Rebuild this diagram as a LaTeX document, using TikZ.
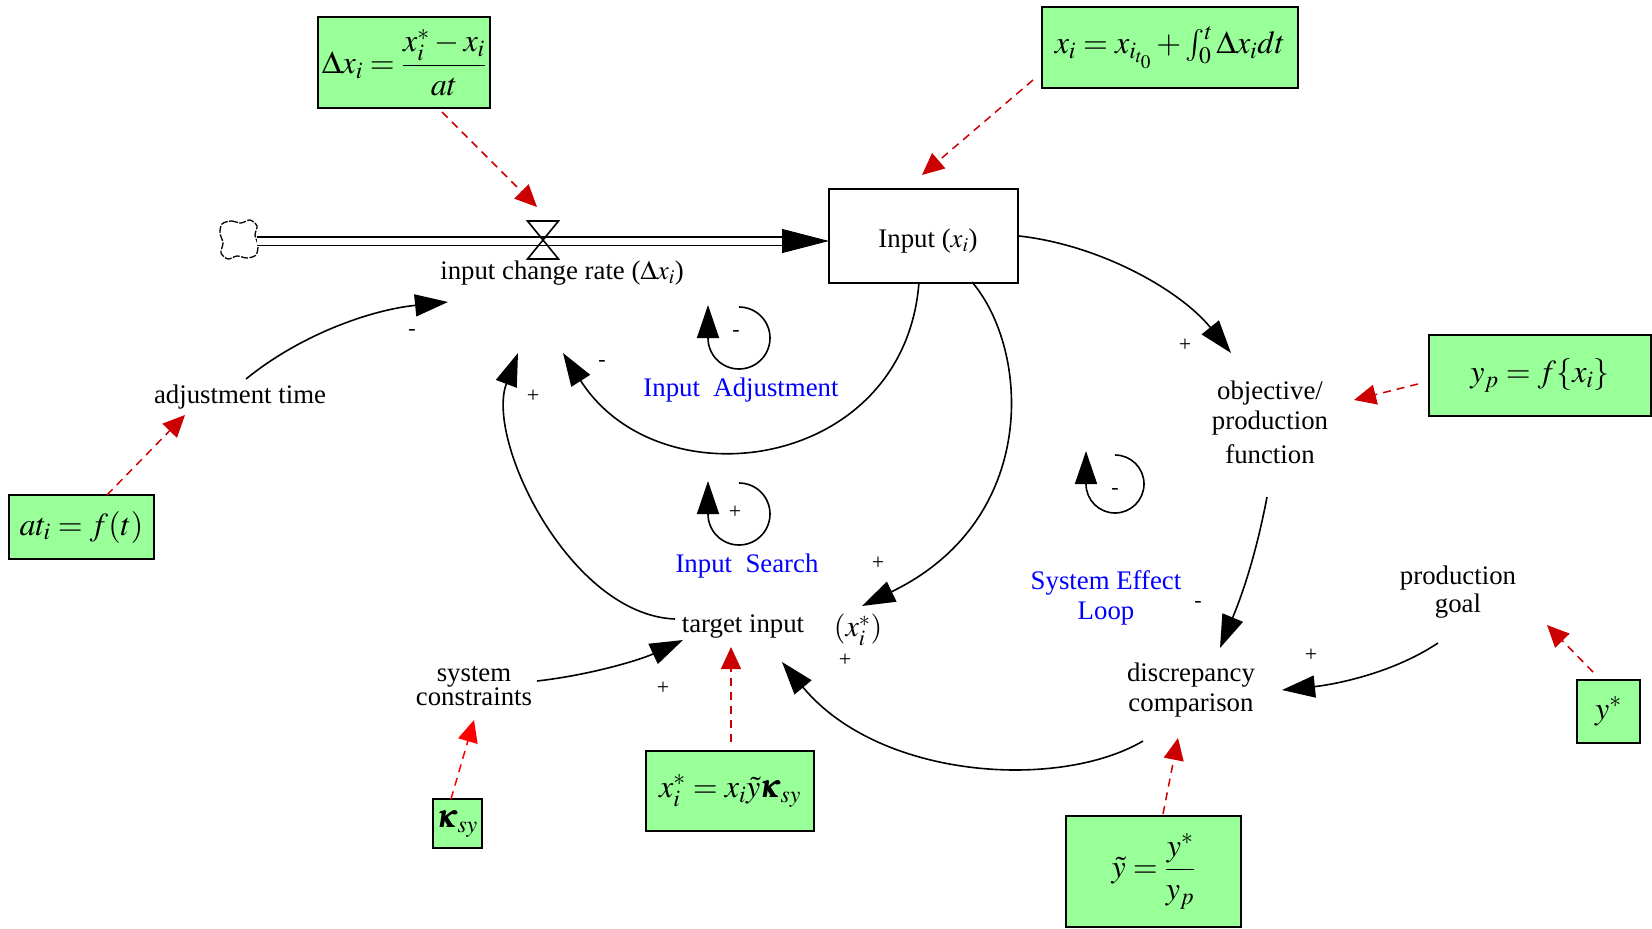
\documentclass[tikz,border=0pt]{standalone}
\usepackage{amsmath}
\usepackage{mathptmx}
\usepackage{fontspec}
\setmainfont{Liberation Serif}
\usetikzlibrary{arrows.meta,calc}

\definecolor{eqgreen}{RGB}{153,255,153}
\definecolor{infred}{RGB}{204,0,0}

\tikzset{
  eqbox/.style={draw=black, line width=1.8pt, fill=eqgreen, inner sep=0pt,
                font=\fontsize{32}{36}\selectfont},
  lbl/.style={inner sep=0pt, align=center, font=\fontsize{26.8}{30}\selectfont},
  loopname/.style={lbl, text=blue},
  sgn/.style={inner sep=0pt, font=\fontsize{22}{24}\selectfont},
  link/.style={line width=1.6pt, -{Triangle[length=33pt,width=22pt]}},
  infl/.style={color=infred, line width=1.5pt, dash pattern=on 8pt off 6pt,
               -{Triangle[length=22pt,width=20pt]}},
  loopar/.style={line width=1.6pt, -{Triangle[length=33pt,width=22pt]}},
  pipe/.style={line width=1.6pt, double=white, double distance=7pt},
}

\begin{document}
\begin{tikzpicture}[x=1pt,y=-1pt]
\useasboundingbox (0,0) rectangle (1652,929);

% ---------- equation boxes ----------
\node[eqbox, minimum width=172pt, minimum height=91pt] (dxbox) at (404,62.5)
  {$\Delta x_i=\dfrac{x_i^{*}-x_i}{at}$};
\node[eqbox, minimum width=256pt, minimum height=81pt] (xbox) at (1170,47.5)
  {$x_i=x_{i_{t_0}}+\int_0^t\Delta x_i dt$};
\node[eqbox, minimum width=222pt, minimum height=81pt] (ypbox) at (1540,375.5)
  {$y_p=f\{x_i\}$};
\node[eqbox, minimum width=145pt, minimum height=64pt] (atbox) at (81.5,527)
  {$at_i=f(t)$};
\node[eqbox, minimum width=49pt, minimum height=49pt] (kbox) at (457.5,823.5)
  {$\pmb{\kappa}_{sy}$};
\node[eqbox, minimum width=168pt, minimum height=80pt] (xsbox) at (730,791)
  {$x_i^{*}=x_i\tilde{y}\pmb{\kappa}_{sy}$};
\node[eqbox, minimum width=175pt, minimum height=111pt] (ytbox) at (1153.5,871.5)
  {$\tilde{y}=\dfrac{y^{*}}{y_p}$};
\node[eqbox, minimum width=63pt, minimum height=63pt] (ysbox) at (1608.5,711.5)
  {$y^{*}$};

% ---------- stock, flow and variables ----------
\node[draw, line width=1.6pt, minimum width=189pt, minimum height=94pt,
      inner sep=0pt] (stock) at (923.5,236) {};
\node[lbl] (stocklbl) at (928,241) {Input ($x_i$)};
\node[lbl] (rate) at (562,273) {input change rate ($\Delta x_i$)};
\node[lbl] (adj) at (240,397) {adjustment time};
\node[lbl] (obj) at (1270,422) {objective/\\production\\[4pt]function};
\node[lbl] (target) at (743,627) {target input};
\node[lbl, font=\fontsize{30}{32}\selectfont] (xstar) at (858,630) {$(x_i^{*})$};
\node[lbl, font=\fontsize{26.8}{24}\selectfont] (sys) at (474,686) {system\\constraints};
\node[lbl] (disc) at (1191,690) {discrepancy\\comparison};
\node[lbl, font=\fontsize{26.8}{28}\selectfont] (goal) at (1458,592) {production\\goal};

% loop names
\node[loopname] (sel) at (1106,598) {System Effect\\Loop};
\node[loopname] (iadj) at (741,390) {Input\ \ Adjustment};
\node[loopname] (isrch) at (747,566) {Input\ \ Search};

% ---------- source cloud, pipe and valve ----------
\coordinate (cloud) at (239,241);
\coordinate (cloudR) at (257,241);
\coordinate (pipeend) at (829,241);
\coordinate (valve) at (543,240);
\draw[line width=1.3pt, dash pattern=on 7pt off 1.5pt] plot[smooth cycle] coordinates {
  (222,224) (231,221) (241,223) (250,220) (257,226) (255,235) (258,245)
  (256,255) (247,258) (237,256) (228,259) (221,253) (223,243) (220,233)};
\draw[pipe] (cloudR) -- ($(pipeend)+(-44,0)$);
\draw[line width=1pt, -{Triangle[length=47pt,width=24pt]}] ($(pipeend)+(-46,0)$) -- (pipeend);
\draw[line width=1.6pt, line join=miter]
  ($(valve)+(-15.5,-19)$) -- ++(31,0) -- ++(-31,38) -- ++(31,0) -- cycle;

% ---------- causal links ----------
\coordinate (adjS) at (246,379);  \coordinate (rateA) at (448,302);
\draw[link] (adjS) .. controls (300,335) and (370,310) .. (rateA);

\coordinate (stockB1) at (919,282); \coordinate (rateB) at (563,353);
\draw[link] (stockB1) .. controls (905,470) and (660,505) .. (rateB);

\coordinate (stockB2) at (972,282); \coordinate (xstarT) at (862,606);
\draw[link] (stockB2) .. controls (1030,350) and (1040,520) .. (xstarT);

\coordinate (stockR) at (1019,236); \coordinate (objT) at (1231,353);
\draw[link] (stockR) .. controls (1100,245) and (1180,290) .. (objT);

\coordinate (targetL) at (675,619); \coordinate (rateC) at (518,353);
\draw[link] (targetL) .. controls (570,615) and (485,440) .. (rateC);

\coordinate (sysR) at (537,681); \coordinate (targetA) at (683,640);
\draw[link] (sysR) .. controls (590,675) and (640,660) .. (targetA);

\coordinate (discL) at (1143,741); \coordinate (targetB) at (782,662);
\draw[link] (discL) .. controls (1060,790) and (880,780) .. (targetB);

\coordinate (objB) at (1267,497); \coordinate (discT) at (1220,648);
\draw[link] (objB) .. controls (1255,560) and (1240,600) .. (discT);

\coordinate (goalL) at (1438,643); \coordinate (discR) at (1282,690);
\draw[link] (goalL) .. controls (1390,675) and (1330,685) .. (discR);

% ---------- loop markers ----------
\coordinate (la) at (739,338);
\coordinate (ls) at (739,514);
\coordinate (le) at (1115,484);
\draw[loopar] ($(la)+(0,-31)$) arc[start angle=-90, end angle=180, radius=31] -- ++(0,-33);
\draw[loopar] ($(ls)+(0,-31)$) arc[start angle=-90, end angle=180, radius=31] -- ++(0,-33);
\draw[loopar] ($(le)+(0,-29)$) arc[start angle=-90, end angle=180, radius=29] -- ++(0,-33);

% ---------- polarity signs ----------
\node[sgn] at (412,332) {-};
\node[sgn] at (602,363) {-};
\node[sgn] at (533,396) {+};
\node[sgn] at (736,333) {-};
\node[sgn] at (735,512) {+};
\node[sgn] at (878,563) {+};
\node[sgn] at (845,660) {+};
\node[sgn] at (663,688) {+};
\node[sgn] at (1185,345) {+};
\node[sgn] at (1198,604) {-};
\node[sgn] at (1311,655) {+};
\node[sgn] at (1115,491) {-};

% ---------- equation links (dashed) ----------
\coordinate (dxS) at (442,112);   \coordinate (valveT) at (537,207);
\draw[infl] (dxS) -- (valveT);
\coordinate (xS) at (1033,80);    \coordinate (stockT) at (922,175);
\draw[infl] (xS) -- (stockT);
\coordinate (ypS) at (1418,384);  \coordinate (objR) at (1354,400);
\draw[infl] (ypS) -- (objR);
\coordinate (atS) at (107,495);   \coordinate (adjT) at (185,415);
\draw[infl] (atS) -- (adjT);
\coordinate (kS) at (451,799);    \coordinate (sysT) at (474,720);
\draw[infl, color=red] (kS) -- (sysT);
\coordinate (xsS) at (731,742);   \coordinate (targetT) at (731,647);
\draw[infl] (xsS) -- (targetT);
\coordinate (ytS) at (1163,814);  \coordinate (discB) at (1178,738);
\draw[infl] (ytS) -- (discB);
\coordinate (ysS) at (1593,672);  \coordinate (goalT) at (1547,625);
\draw[infl] (ysS) -- (goalT);
\end{tikzpicture}
\end{document}
